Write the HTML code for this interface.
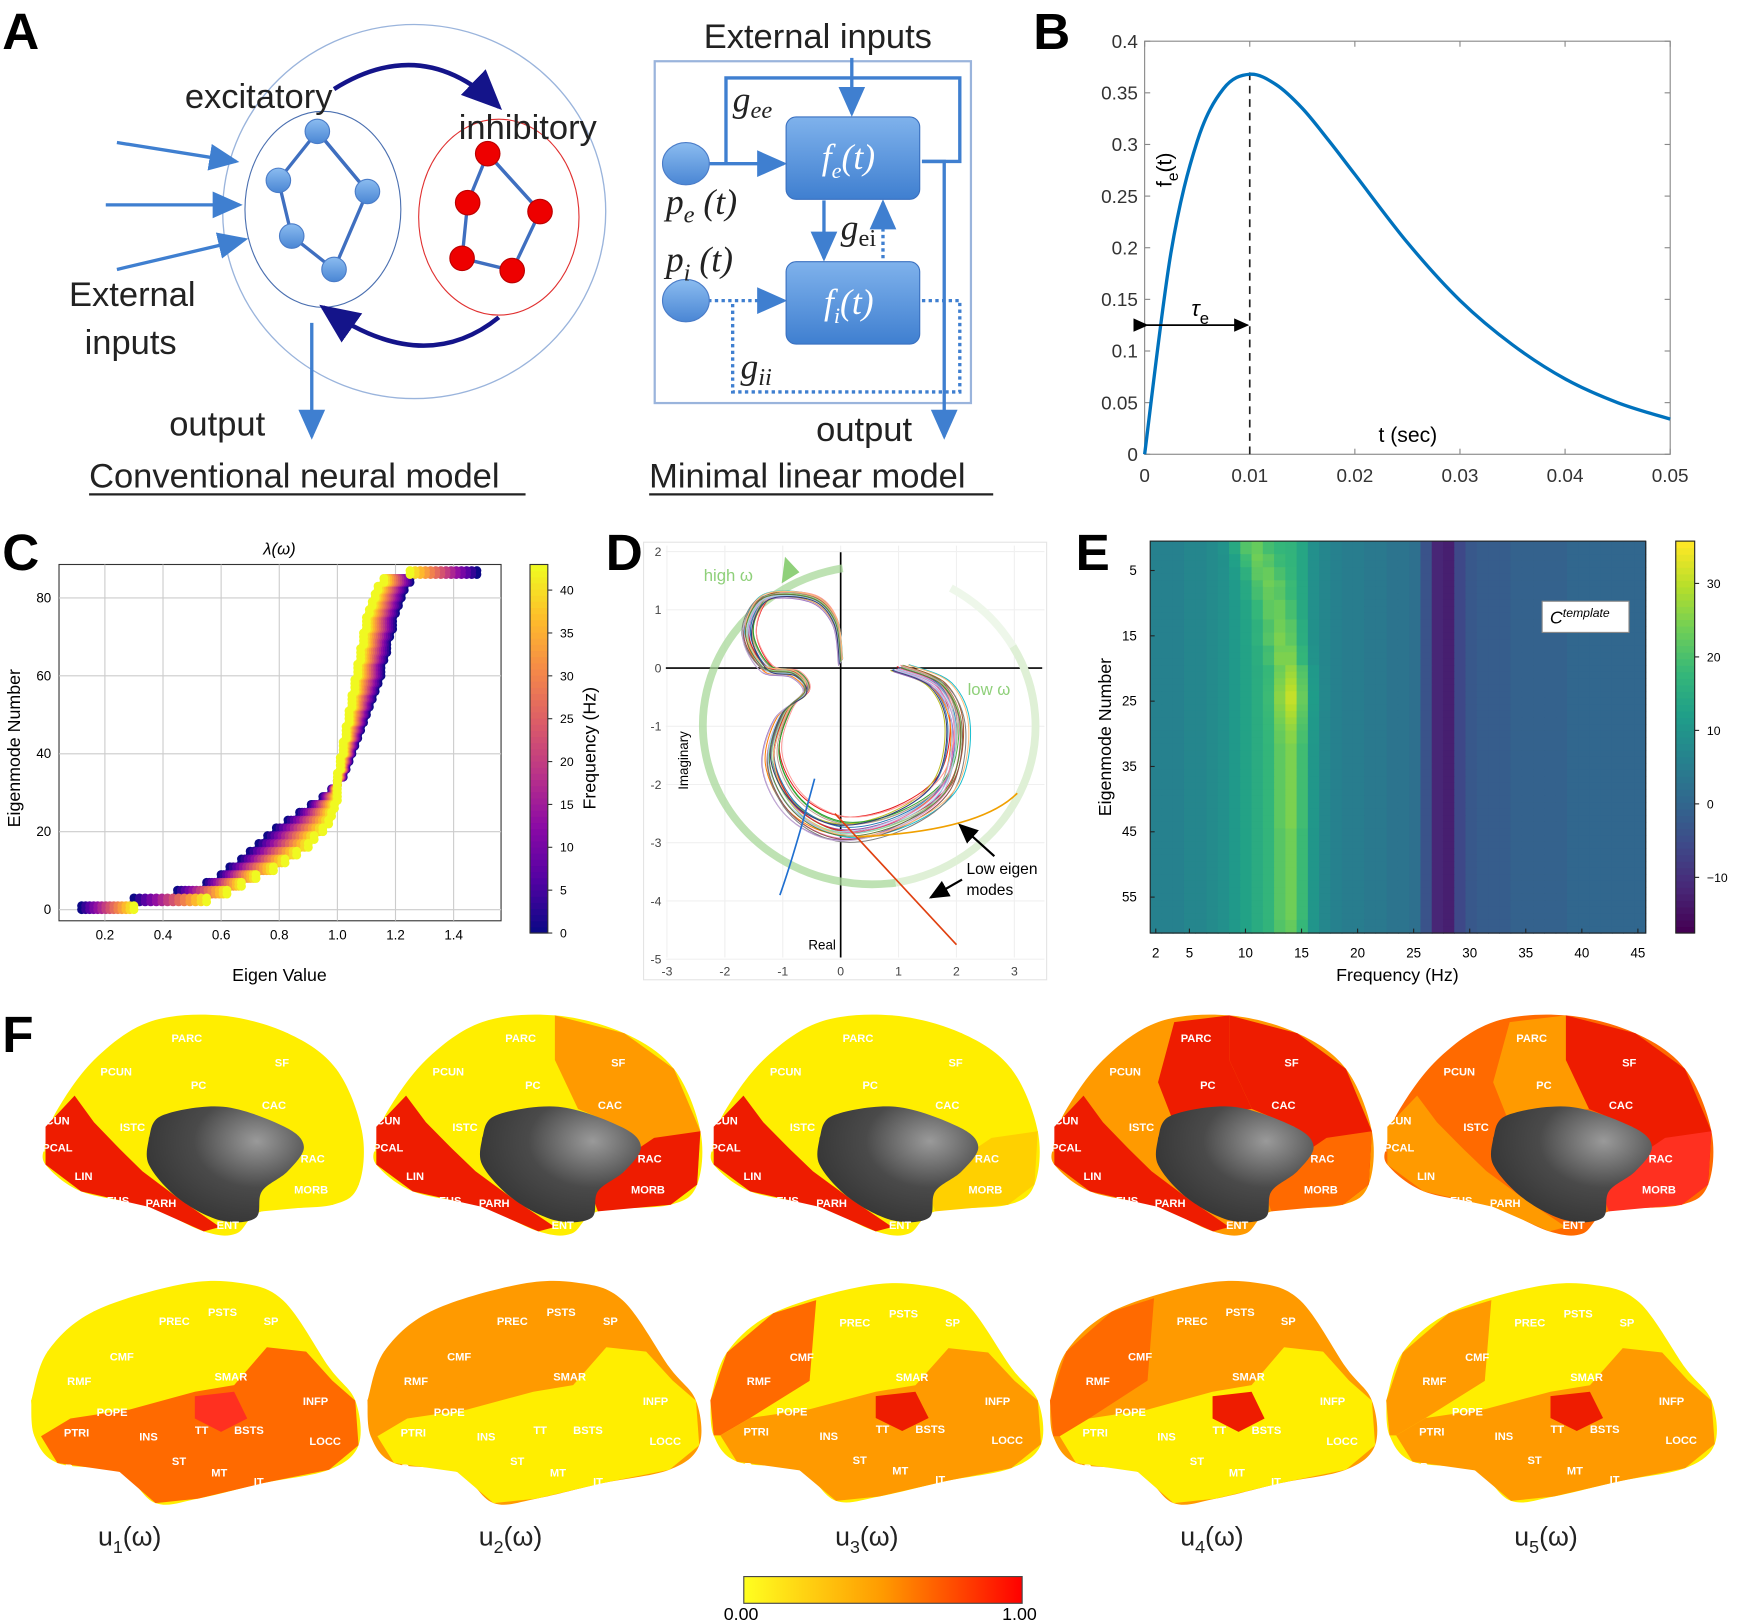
<!DOCTYPE html>
<html><head><meta charset="utf-8">
<style>
html,body{margin:0;padding:0;background:#fff;}
svg{display:block;font-family:"Liberation Sans",sans-serif;}
</style></head>
<body>
<svg id="fig" xmlns="http://www.w3.org/2000/svg" width="1737" height="1620" viewBox="0 0 1560 1455" preserveAspectRatio="none">
<defs>
<linearGradient id="boxg" x1="0" y1="0" x2="0" y2="1"><stop offset="0" stop-color="#7fb2ec"/><stop offset="1" stop-color="#3f7fd0"/></linearGradient>
<linearGradient id="nodeg" x1="0" y1="0" x2="0" y2="1"><stop offset="0" stop-color="#8bbcf0"/><stop offset="1" stop-color="#4a86d4"/></linearGradient>
<linearGradient id="ycb" x1="0" y1="0" x2="1" y2="0"><stop offset="0" stop-color="#ffff20"/><stop offset="0.5" stop-color="#ff9a00"/><stop offset="1" stop-color="#ff0000"/></linearGradient>
<radialGradient id="grayg" cx="0.7" cy="0.3" r="0.8"><stop offset="0" stop-color="#9a9a9a"/><stop offset="0.5" stop-color="#4a4a4a"/><stop offset="1" stop-color="#333"/></radialGradient>
<marker id="arr" markerWidth="10" markerHeight="10" refX="8" refY="5" orient="auto"><path d="M0,1 L9,5 L0,9 z" fill="#3f7fd0"/></marker>
<marker id="arrk" markerWidth="10" markerHeight="10" refX="8" refY="5" orient="auto"><path d="M0,1 L9,5 L0,9 z" fill="#000"/></marker>
<marker id="arrn" markerWidth="10" markerHeight="10" refX="8" refY="5" orient="auto"><path d="M0,1 L9,5 L0,9 z" fill="#14148a"/></marker>
</defs>

<!-- PANEL A -->
<g>
<text x="2" y="44" font-size="46" font-weight="bold">A</text>
<ellipse cx="372" cy="190" rx="172" ry="168" fill="none" stroke="#9ab4dc" stroke-width="1.2"/>
<ellipse cx="290" cy="188" rx="70" ry="88" fill="none" stroke="#4a6fb0" stroke-width="1"/>
<ellipse cx="448" cy="195" rx="72" ry="88" fill="none" stroke="#e03030" stroke-width="1"/>
<g stroke="#3f6fc0" stroke-width="3" fill="none">
<path d="M285,118 L250,162 L262,212 L300,242 L330,172 Z"/><path d="M285,118 L330,172"/>
</g>
<g stroke="#3f6fc0" stroke-width="3" fill="none">
<path d="M438,138 L420,182 L415,232 L460,243 L485,190 Z"/><path d="M438,138 L485,190"/>
</g>
<g fill="url(#nodeg)" stroke="#4a7cc8"><circle cx="285" cy="118" r="11"/><circle cx="250" cy="162" r="11"/><circle cx="330" cy="172" r="11"/><circle cx="262" cy="212" r="11"/><circle cx="300" cy="242" r="11"/></g>
<g fill="#ee0000" stroke="#b00"><circle cx="438" cy="138" r="11"/><circle cx="420" cy="182" r="11"/><circle cx="485" cy="190" r="11"/><circle cx="415" cy="232" r="11"/><circle cx="460" cy="243" r="11"/></g>
<path d="M300,80 Q380,30 448,96" fill="none" stroke="#14148a" stroke-width="4" marker-end="url(#arrn)"/>
<path d="M448,285 Q380,340 290,276" fill="none" stroke="#14148a" stroke-width="4" marker-end="url(#arrn)"/>
<g stroke="#3f7fd0" stroke-width="3" fill="none">
<path d="M105,128 L212,145" marker-end="url(#arr)"/><path d="M95,184 L215,184" marker-end="url(#arr)"/><path d="M105,242 L220,215" marker-end="url(#arr)"/>
<path d="M280,290 L280,392" marker-end="url(#arr)"/>
</g>
<g font-size="31" fill="#222">
<text x="166" y="97">excitatory</text><text x="412" y="125">inhibitory</text>
<text x="62" y="275">External</text><text x="76" y="318">inputs</text>
<text x="152" y="391">output</text>
<text x="80" y="438">Conventional neural model</text>
<text x="632" y="43">External inputs</text>
<text x="733" y="396">output</text>
<text x="583" y="438">Minimal linear model</text>
</g>
<line x1="80" y1="444" x2="472" y2="444" stroke="#222" stroke-width="2"/>
<line x1="583" y1="444" x2="892" y2="444" stroke="#222" stroke-width="2"/>
<rect x="588" y="55" width="284" height="307" fill="none" stroke="#9ab4dc" stroke-width="2"/>
<g stroke="#3f7fd0" stroke-width="3" fill="none">
<path d="M765,52 L765,102" marker-end="url(#arr)"/>
<path d="M636,147 L704,147" marker-end="url(#arr)"/>
<path d="M652,147 L652,70 L862,70 L862,145 L828,145"/>
<path d="M828,145 L848,145 L848,392" marker-end="url(#arr)"/>
<path d="M740,180 L740,232" marker-end="url(#arr)"/>
<path d="M793,232 L793,182" stroke-dasharray="3,3" marker-end="url(#arr)"/>
<path d="M636,270 L704,270" stroke-dasharray="3,3" marker-end="url(#arr)"/>
<path d="M828,270 L862,270 L862,352 L658,352 L658,272" stroke-dasharray="3,3"/>
</g>
<rect x="706" y="105" width="120" height="74" rx="9" fill="url(#boxg)" stroke="#3a70c0"/>
<rect x="706" y="235" width="120" height="74" rx="9" fill="url(#boxg)" stroke="#3a70c0"/>
<ellipse cx="616" cy="147" rx="21" ry="19" fill="url(#nodeg)" stroke="#4a7cc8"/>
<ellipse cx="616" cy="270" rx="21" ry="19" fill="url(#nodeg)" stroke="#4a7cc8"/>
<g font-family="Liberation Serif,serif" font-style="italic" font-size="32" fill="#222">
<text x="738" y="152" fill="#fff">f<tspan font-size="20" dy="8">e</tspan><tspan dy="-8">(t)</tspan></text>
<text x="740" y="282" fill="#fff">f<tspan font-size="20" dy="8">i</tspan><tspan dy="-8">(t)</tspan></text>
<text x="658" y="100">g<tspan font-size="22" dy="6">ee</tspan></text>
<text x="598" y="192">p<tspan font-size="22" dy="8">e</tspan><tspan dy="-8"> (t)</tspan></text>
<text x="598" y="244">p<tspan font-size="22" dy="8">i</tspan><tspan dy="-8"> (t)</tspan></text>
<text x="755" y="215">g<tspan font-size="22" dy="6" font-style="normal">ei</tspan></text>
<text x="665" y="340">g<tspan font-size="22" dy="6">ii</tspan></text>
</g>
</g>

<g id="panelB"></g>
<g id="panelC"></g>
<g id="panelD"></g>
<g id="panelE"></g>
<g id="panelF"></g>
</svg>

<script>
// ---------- DATA ----------
// Panel B
const bTime = [0,0.0025,0.005,0.0075,0.01,0.0125,0.015,0.0175,0.02,0.025,0.03,0.035,0.04,0.045,0.05];
const bValue = [0,0.195,0.303,0.354,0.368,0.358,0.335,0.304,0.271,0.205,0.149,0.106,0.073,0.050,0.034];
const bXTicks = [0,0.01,0.02,0.03,0.04,0.05];
const bYTicks = [0,0.05,0.1,0.15,0.2,0.25,0.3,0.35,0.4];
// Panel C
const cModes = [0,2,4,6,8,10,12,14,16,18,20,22,24,26,28,30,32,34,36,38,40,42,44,46,48,50,52,54,56,58,60,62,64,66,68,70,72,74,76,78,80,82,84,86];
const cEigLowFreq = [0.12,0.3,0.45,0.55,0.6,0.63,0.67,0.7,0.73,0.76,0.79,0.83,0.87,0.91,0.95,0.98,1.0,1.02,1.03,1.04,1.05,1.06,1.07,1.08,1.09,1.1,1.11,1.12,1.13,1.14,1.15,1.15,1.16,1.17,1.17,1.18,1.19,1.19,1.2,1.21,1.22,1.23,1.25,1.48];
const cEigHighFreq = [0.3,0.55,0.62,0.67,0.72,0.78,0.82,0.86,0.9,0.92,0.95,0.97,0.98,0.99,1.0,1.0,1.0,1.0,1.01,1.01,1.02,1.02,1.03,1.03,1.04,1.04,1.05,1.05,1.06,1.06,1.07,1.07,1.08,1.08,1.09,1.09,1.1,1.1,1.11,1.12,1.13,1.14,1.16,1.25];
const cXTicks = [0.2,0.4,0.6,0.8,1.0,1.2,1.4];
const cYTicks = [0,20,40,60,80];
const cCbTicks = [0,5,10,15,20,25,30,35,40];
// Panel D
const dBaseRe = [1.0,1.7,2.0,1.8,1.0,0.0,-0.8,-1.2,-1.0,-0.6,-0.8,-1.3,-1.6,-1.3,-0.5,-0.1,0.0];
const dBaseIm = [0.0,-0.3,-1.0,-2.0,-2.6,-2.8,-2.4,-1.6,-0.8,-0.4,-0.1,0.0,0.6,1.2,1.2,0.8,0.1];
const dCurveScale = [0.92,0.95,0.97,0.99,1.0,1.02,1.04,1.06,0.94,0.98,1.01,1.03,1.05,0.96,1.0,1.07,0.93,0.99,1.02,1.04,0.97,1.01,1.05,0.95,1.03];
const dCurveShift = [0.05,-0.05,0.1,0.0,-0.1,0.08,-0.02,0.12,-0.08,0.03,0.06,-0.12,0.0,0.09,-0.04,0.02,0.1,-0.06,0.04,-0.1,0.07,-0.03,0.11,-0.07,0.01];
const dXTicks = [-3,-2,-1,0,1,2,3];
const dYTicks = [-5,-4,-3,-2,-1,0,1,2];
// Panel E
const eFreqs = [1,2,3,4,5,6,7,8,9,10,11,12,13,14,15,16,17,18,19,20,21,22,23,24,25,26,27,28,29,30,31,32,33,34,35,36,37,38,39,40,41,42,43,44];
const eColBase = [6,6,6,7,7,8,9,11,13,15,16,17,17,14,9,7,6,5,5,4,4,3,3,2,-4,-12,-13,-6,-3,-2,-2,-2,-1,-1,-1,-1,-1,0,0,0,0,0,0,0];
const eRowPeak = [9.5,9.5,10,10,10.5,10.5,11,11,11,11.5,11.5,11.5,12,12,12,12,12.5,12.5,12.5,13,13,13,13,13,13,13,13,13,13,13,13,13,13,13,13,13,13,13,13,13,13,13,13,13,13,13,13,13,13,13,13,13,13,13,13,13,13,13,13,13];
const eRowBoost = [9,9,9,8,8,8,8,7,7,7,7,7,7,7,8,8,8,9,9,10,11,12,13,14,14,13,12,11,10,9,9,8,8,8,8,8,8,8,8,8,8,8,8,8,7,7,7,7,7,7,7,7,7,7,7,7,7,7,6,6];
const eXTicks = [2,5,10,15,20,25,30,35,40,45];
const eYTicks = [5,15,25,35,45,55];
const eCbTicks = [-10,0,10,20,30];

const NS="http://www.w3.org/2000/svg";
function mk(parent,tag,attrs,text){const e=document.createElementNS(NS,tag);for(const k in attrs)e.setAttribute(k,attrs[k]);if(text!==undefined)e.textContent=text;parent.appendChild(e);return e;}
function lerpColor(stops,t){t=Math.max(0,Math.min(1,t));const n=stops.length-1;const i=Math.min(n-1,Math.floor(t*n));const f=t*n-i;const a=stops[i],b=stops[i+1];return `rgb(${Math.round(a[0]+(b[0]-a[0])*f)},${Math.round(a[1]+(b[1]-a[1])*f)},${Math.round(a[2]+(b[2]-a[2])*f)})`;}
const viridis=[[68,1,84],[72,40,120],[62,74,137],[49,104,142],[38,130,142],[31,158,137],[53,183,121],[110,206,88],[181,222,43],[253,231,37]];
const plasma=[[13,8,135],[84,2,163],[139,10,165],[185,50,137],[219,92,104],[244,136,73],[254,188,43],[240,249,33]];
function smoothPath(pts){let d=`M${pts[0][0]},${pts[0][1]}`;for(let i=0;i<pts.length-1;i++){const p0=pts[Math.max(0,i-1)],p1=pts[i],p2=pts[i+1],p3=pts[Math.min(pts.length-1,i+2)];d+=` C${p1[0]+(p2[0]-p0[0])/6},${p1[1]+(p2[1]-p0[1])/6} ${p2[0]-(p3[0]-p1[0])/6},${p2[1]-(p3[1]-p1[1])/6} ${p2[0]},${p2[1]}`;}return d;}

// ---------- PANEL B ----------
(function(){
const g=document.getElementById('panelB');
const X0=1028,X1=1500,Y0=408,Y1=37;
const sx=v=>X0+(v-0)/0.05*(X1-X0), sy=v=>Y0-(v/0.4)*(Y0-Y1);
mk(g,'text',{x:928,y:44,'font-size':46,'font-weight':'bold',},'B');
mk(g,'rect',{x:X0,y:Y1,width:X1-X0,height:Y0-Y1,fill:'none',stroke:'#888','stroke-width':1});
bXTicks.forEach(t=>{const x=sx(t);mk(g,'line',{x1:x,y1:Y0,x2:x,y2:Y0-5,stroke:'#888'});mk(g,'line',{x1:x,y1:Y1,x2:x,y2:Y1+5,stroke:'#888'});
 const l=mk(g,'text',{x:x,y:Y0+25,'font-size':17,'text-anchor':'middle',fill:'#333'},String(t));});
bYTicks.forEach(t=>{const y=sy(t);mk(g,'line',{x1:X0,y1:y,x2:X0+5,y2:y,stroke:'#888'});mk(g,'line',{x1:X1,y1:y,x2:X1-5,y2:y,stroke:'#888'});
 const l=mk(g,'text',{x:X0-6,y:y+6,'font-size':17,'text-anchor':'end',fill:'#333'},String(t));});
mk(g,'line',{x1:sx(0.01),y1:Y1+28,x2:sx(0.01),y2:Y0,stroke:'#222','stroke-width':1.5,'stroke-dasharray':'7,5'});
const pts=bTime.map((t,i)=>[sx(t),sy(bValue[i])]);
const c=mk(g,'path',{d:smoothPath(pts),fill:'none',stroke:'#0072bd','stroke-width':3});

mk(g,'line',{x1:X0+2,y1:292,x2:sx(0.01)-2,y2:292,stroke:'#000','stroke-width':1.5,'marker-end':'url(#arrk)','marker-start':'url(#arrk)'});
const tau=mk(g,'text',{x:1070,y:284,'font-size':20,'font-style':'italic'},'τ');mk(tau,'tspan',{'font-size':15,dy:7,'font-style':'normal'},'e');
const yl=mk(g,'text',{x:1052,y:168,'font-size':19,transform:'rotate(-90 1052 168)'},'f');mk(yl,'tspan',{'font-size':14,dy:6},'e');mk(yl,'tspan',{dy:-6},'(t)');

const xl=mk(g,'text',{x:1238,y:397,'font-size':19},'t (sec)');
})();

// ---------- PANEL C ----------
(function(){
const g=document.getElementById('panelC');
const X0=53,X1=450,Y0=827,Y1=507;
const sx=v=>42+(v)*261, sy=v=>Y0-10-v*3.5;
mk(g,'text',{x:2,y:512,'font-size':46,'font-weight':'bold',},'C');
mk(g,'rect',{x:X0,y:Y1,width:X1-X0,height:Y0-Y1,fill:'#fff',stroke:'#333'});
cXTicks.forEach(t=>{const x=sx(t);mk(g,'line',{x1:x,y1:Y1,x2:x,y2:Y0,stroke:'#ccc'});
 const l=mk(g,'text',{x:x,y:Y0+17,'font-size':12,'text-anchor':'middle'},t.toFixed(1));});
cYTicks.forEach(t=>{const y=sy(t);mk(g,'line',{x1:X0,y1:y,x2:X1,y2:y,stroke:'#ccc'});
 const l=mk(g,'text',{x:X0-7,y:y+4,'font-size':12,'text-anchor':'end'},String(t));});
const N=14;
for(let k=0;k<N;k++){
 const t=k/(N-1);
 cModes.forEach((m,i)=>{
  const ev=cEigLowFreq[i]+(cEigHighFreq[i]-cEigLowFreq[i])*t;
  const d=mk(g,'circle',{cx:sx(ev),cy:sy(m),r:4,fill:lerpColor(plasma,t)});
  
  const d2=mk(g,'circle',{cx:sx(ev),cy:sy(m+1),r:4,fill:lerpColor(plasma,t)});
  
 });
}
const tl=mk(g,'text',{x:251,y:498,'font-size':15,'text-anchor':'middle','font-style':'italic'},'λ(ω)');
const xt=mk(g,'text',{x:251,y:881,'font-size':16,'text-anchor':'middle'},'Eigen Value');
const yt=mk(g,'text',{x:18,y:672,'font-size':16,'text-anchor':'middle',transform:'rotate(-90 18 672)'},'Eigenmode Number');
const CB0=838,CB1=507,cbs=v=>838-v*7.7;
for(let i=0;i<60;i++){const a=CB0-(CB0-CB1)*i/60;mk(g,'rect',{x:476,y:a-(CB0-CB1)/60-0.5,width:16,height:(CB0-CB1)/60+1,fill:lerpColor(plasma,i/59)});}
mk(g,'rect',{x:476,y:CB1,width:16,height:CB0-CB1,fill:'none',stroke:'#333',});
cCbTicks.forEach(t=>{const y=cbs(t);mk(g,'line',{x1:492,y1:y,x2:496,y2:y,stroke:'#333'});mk(g,'text',{x:503,y:y+4,'font-size':11},String(t));});
const ct=mk(g,'text',{x:535,y:672,'font-size':16,'text-anchor':'middle',transform:'rotate(-90 535 672)'},'Frequency (Hz)');
})();

// ---------- PANEL D ----------
(function(){
const g=document.getElementById('panelD');
const sx=v=>755+v*52, sy=v=>600-v*52.3;
mk(g,'text',{x:544,y:512,'font-size':46,'font-weight':'bold',},'D');
mk(g,'rect',{x:578,y:487,width:362,height:393,fill:'#fff',stroke:'#e4e4e4'});
dXTicks.forEach(t=>{const x=sx(t);mk(g,'line',{x1:x,y1:490,x2:x,y2:860,stroke:'#f0f0f0'});
 const l=mk(g,'text',{x:x,y:876,'font-size':11,'text-anchor':'middle',fill:'#444'},String(t));});
dYTicks.forEach(t=>{const y=sy(t);mk(g,'line',{x1:598,y1:y,x2:938,y2:y,stroke:'#f0f0f0'});
 const l=mk(g,'text',{x:594,y:y+4,'font-size':11,'text-anchor':'end',fill:'#444'},String(t));});
mk(g,'line',{x1:598,y1:sy(0),x2:936,y2:sy(0),stroke:'#000','stroke-width':1.5});
mk(g,'line',{x1:sx(0),y1:496,x2:sx(0),y2:860,stroke:'#000','stroke-width':1.5});
// green arc (pixel geometry, decorative)
const cx=778,cy=652,rx=152,ry=143;
const pt=a=>[cx+rx*Math.cos(a*Math.PI/180),cy-ry*Math.sin(a*Math.PI/180)];
const a1=pt(98),a2=pt(280),a3=pt(30);
mk(g,'path',{d:`M${a1[0]},${a1[1]} A${rx},${ry} 0 0 0 ${a2[0]},${a2[1]}`,fill:'none',stroke:'#a8d89a','stroke-width':7,opacity:0.75,});
mk(g,'path',{d:`M${a2[0]},${a2[1]} A${rx},${ry} 0 0 0 ${a3[0]},${a3[1]}`,fill:'none',stroke:'#dff0d6','stroke-width':7});
mk(g,'path',{d:`M${a3[0]},${a3[1]} A${rx},${ry} 0 0 0 ${pt(60)[0]},${pt(60)[1]}`,fill:'none',stroke:'#eef7ea','stroke-width':7});
mk(g,'path',{d:`M705,500 L718,514 L702,524 Z`,fill:'#8fd07a'});
const cols=['#e41a1c','#377eb8','#4daf4a','#984ea3','#ff7f00','#a65628','#f781bf','#17becf','#bcbd22','#1f77b4','#d62728','#9467bd','#8c564b','#2ca02c','#e377c2','#7f7f7f','#ff9896','#aec7e8','#98df8a','#c5b0d5','#c49c94','#9edae5','#ffbb78','#393b79','#637939'];
dCurveScale.forEach((s,i)=>{
 const pts=dBaseRe.map((r,j)=>[sx(r*s+dCurveShift[i]*(j<9?1:0.3)),sy(dBaseIm[j]*(j<9?s:1)+dCurveShift[i]*0.5)]);
 const p=mk(g,'path',{d:smoothPath(pts),fill:'none',stroke:cols[i%cols.length],'stroke-width':0.9});
 
});
mk(g,'path',{d:`M${sx(-0.45)},${sy(-1.9)} Q${sx(-0.8)},${sy(-3.2)} ${sx(-1.05)},${sy(-3.9)}`,fill:'none',stroke:'#1f6fd0','stroke-width':1.5});
mk(g,'path',{d:`M${sx(-0.1)},${sy(-2.5)} L${sx(2.0)},${sy(-4.75)}`,fill:'none',stroke:'#e04010','stroke-width':1.5});
mk(g,'path',{d:`M${sx(0.3)},${sy(-2.9)} Q${sx(2.4)},${sy(-2.8)} ${sx(3.05)},${sy(-2.15)}`,fill:'none',stroke:'#f0a000','stroke-width':1.5});
mk(g,'text',{x:632,y:522,'font-size':15,fill:'#8fd07a'},'high ω');
mk(g,'text',{x:869,y:624,'font-size':15,fill:'#8fd07a'},'low ω');
mk(g,'text',{x:868,y:785,'font-size':14},'Low eigen');mk(g,'text',{x:868,y:804,'font-size':14},'modes');
mk(g,'line',{x1:893,y1:769,x2:862,y2:741,stroke:'#000','stroke-width':2,'marker-end':'url(#arrk)'});
mk(g,'line',{x1:864,y1:790,x2:836,y2:806,stroke:'#000','stroke-width':2,'marker-end':'url(#arrk)'});
const xt=mk(g,'text',{x:726,y:853,'font-size':12},'Real');
const yt=mk(g,'text',{x:618,y:683,'font-size':12,'text-anchor':'middle',transform:'rotate(-90 618 683)'},'Imaginary');
})();

// ---------- PANEL E ----------
(function(){
const g=document.getElementById('panelE');
const X0=1033,X1=1478,Y0=486,Y1=838;
const nR=eRowPeak.length, rowH=(Y1-Y0)/nR;
const sx=f=>1038+(f-2)*(1471-1038)/43;
const cw=(X1-X0)/eFreqs.length;
const vmin=-17.6,vmax=35.8;
mk(g,'text',{x:966,y:512,'font-size':46,'font-weight':'bold',},'E');
eRowPeak.forEach((pk,r)=>{
 eFreqs.forEach((f,c)=>{
  const d=f-pk; const v=eColBase[c]+eRowBoost[r]*Math.exp(-d*d/(2*1.1*1.1));
  const cell=mk(g,'rect',{x:X0+c*cw,y:Y0+r*rowH,width:cw+0.6,height:rowH+0.6,fill:lerpColor(viridis,(v-vmin)/(vmax-vmin))});
  
 });
});
mk(g,'rect',{x:X0,y:Y0,width:X1-X0,height:Y1-Y0,fill:'none',stroke:'#222'});
eXTicks.forEach(t=>{const x=sx(t);mk(g,'line',{x1:x,y1:Y1,x2:x,y2:Y1-4,stroke:'#222'});
 const l=mk(g,'text',{x:x,y:Y1+22,'font-size':12,'text-anchor':'middle'},String(t));});
eYTicks.forEach(t=>{const y=Y0+(t-0.5)*rowH;mk(g,'line',{x1:X0,y1:y,x2:X0+4,y2:y,stroke:'#222'});
 const l=mk(g,'text',{x:X0-12,y:y+4,'font-size':12,'text-anchor':'end'},String(t));});
mk(g,'rect',{x:1385,y:540,width:78,height:28,fill:'#fff',stroke:'#888'});
const ct=mk(g,'text',{x:1392,y:560,'font-size':16,'font-style':'italic'},'C');mk(ct,'tspan',{'font-size':11,dy:-6},'template');
const xt=mk(g,'text',{x:1255,y:881,'font-size':16,'text-anchor':'middle'},'Frequency (Hz)');
const yt=mk(g,'text',{x:998,y:662,'font-size':16,'text-anchor':'middle',transform:'rotate(-90 998 662)'},'Eigenmode Number');
const cbs=v=>722-v*6.6;
for(let i=0;i<60;i++){const a=Y1-(Y1-Y0)*i/60;mk(g,'rect',{x:1505,y:a-(Y1-Y0)/60-0.5,width:17,height:(Y1-Y0)/60+1,fill:lerpColor(viridis,i/59)});}
mk(g,'rect',{x:1505,y:Y0,width:17,height:Y1-Y0,fill:'none',stroke:'#222',});
eCbTicks.forEach(t=>{const y=cbs(t);mk(g,'line',{x1:1522,y1:y,x2:1526,y2:y,stroke:'#222'});mk(g,'text',{x:1533,y:y+4,'font-size':11},(t<0?'−':'')+Math.abs(t));});
})();

// ---------- PANEL F ----------
(function(){
const g=document.getElementById('panelF');
mk(g,'text',{x:2,y:945,'font-size':46,'font-weight':'bold',},'F');
const Y='#ffee00',Y2='#ffd000',O='#ff9a00',O2='#ff6a00',R='#ee1c00',R2='#ff3020';
const med=[[.007,.59],[.04,.44],[.16,.2],[.33,.03],[.55,0],[.76,.08],[.91,.24],[.99,.52],[.98,.76],[.9,.85],[.68,.88],[.6,.98],[.5,.97],[.33,.86],[.12,.79],[.01,.67]];
const grey=[[.33,.55],[.37,.45],[.56,.41],[.75,.5],[.81,.59],[.76,.7],[.68,.79],[.66,.91],[.55,.92],[.42,.82],[.33,.67]];
const occ=[[.01,.5],[.1,.36],[.16,.48],[.24,.6],[.31,.7],[.42,.82],[.55,.95],[.5,.97],[.33,.86],[.12,.79],[.01,.67]];
const front=[[.55,0],[.76,.08],[.91,.24],[.99,.52],[.98,.76],[.9,.85],[.75,.7],[.81,.59],[.75,.5],[.62,.42],[.55,.2]];
const orb=[[.99,.52],[.98,.76],[.9,.85],[.68,.88],[.66,.8],[.76,.7],[.81,.59],[.85,.55]];
const mid=[[.38,.03],[.55,0],[.55,.2],[.62,.42],[.37,.45],[.33,.3]];
const lat=[[0,.54],[.05,.32],[.19,.14],[.45,.02],[.63,.01],[.77,.09],[.91,.39],[.99,.54],[1,.74],[.91,.85],[.71,.91],[.51,.98],[.38,1],[.27,.86],[.08,.82],[.01,.7]];
const temp=[[.12,.62],[.3,.58],[.5,.5],[.62,.47],[.72,.3],[.84,.32],[.92,.45],[.99,.54],[1,.74],[.91,.85],[.71,.91],[.51,.98],[.38,1],[.27,.86],[.08,.82],[.03,.7]];
const ant=[[0,.54],[.05,.32],[.19,.14],[.32,.08],[.3,.45],[.12,.62],[.03,.7],[.01,.7]];
const spot=[[.5,.52],[.62,.5],[.66,.62],[.58,.68],[.5,.62]];
function poly(box,pts,fill,name){const [x,y,w,h]=box;const p=mk(g,'polygon',{points:pts.map(q=>`${x+q[0]*w},${y+q[1]*h}`).join(' '),fill:fill});return p;}
function smooth(box,pts,fill,name){const [x,y,w,h]=box;const P=pts.map(q=>[x+q[0]*w,y+q[1]*h]);P.push(P[0]);const p=mk(g,'path',{d:smoothPath(P)+'Z',fill:fill});return p;}
const medBoxes=[[38,912,290,200],[335,912,297,200],[638,912,297,200],[944,912,291,200],[1243,912,297,200]];
const medCols=[[Y,Y,R,Y],[Y,O,R,R],[Y,Y,R,Y2],[O,R,R,O2],[O2,R,O,R2]];
const medMid=[Y,Y,Y,R,O];
const latBoxes=[[28,1150,294,200],[330,1150,298,200],[638,1152,297,196],[943,1150,292,200],[1245,1152,295,196]];
const latCols=[[Y,O2,Y],[O,Y,O],[Y,O,O2],[O,Y,O2],[Y,O,O]];
const latSpot=[R2,Y,R,R,R];
const medLbl=[['PARC',.4,.12],['PCUN',.18,.27],['PC',.46,.33],['SF',.72,.23],['CAC',.68,.42],['CUN',.01,.49],['ISTC',.24,.52],['PCAL',0,.61],['RAC',.8,.66],['LIN',.1,.74],['MORB',.78,.8],['FUS',.2,.85],['PARH',.32,.86],['ENT',.54,.96]];
const latLbl=[['PSTS',.54,.16],['PREC',.39,.2],['SP',.71,.2],['CMF',.24,.36],['RMF',.11,.47],['SMAR',.56,.45],['INFP',.83,.56],['POPE',.2,.61],['TT',.5,.69],['PTRI',.1,.7],['INS',.33,.72],['BSTS',.62,.69],['LOCC',.85,.74],['ST',.43,.83],['PORB',.03,.86],['MT',.55,.88],['LORB',.13,.93],['IT',.68,.92]];
medBoxes.forEach((b,i)=>{
 const c=medCols[i];
 smooth(b,med,c[0],'medial-brain-surface');
 poly(b,mid,medMid[i],'medial-region');
 poly(b,front,c[1],'frontal-region');
 poly(b,occ,c[2],'occipital-region');
 poly(b,orb,c[3],'orbital-region');
 smooth(b,grey,'url(#grayg)','medial-wall');
 medLbl.forEach(l=>{mk(g,'text',{x:b[0]+l[1]*b[2],y:b[1]+l[2]*b[3],'font-size':10,'font-weight':'bold',fill:'#fff'},l[0]);});
});
latBoxes.forEach((b,i)=>{
 const c=latCols[i];
 smooth(b,lat,c[0],'lateral-brain-surface');
 poly(b,ant,c[2],'frontal-region');
 poly(b,temp,c[1],'temporal-region');
 poly(b,spot,latSpot[i],'bsts-region');
 latLbl.forEach(l=>{mk(g,'text',{x:b[0]+l[1]*b[2],y:b[1]+l[2]*b[3],'font-size':10,'font-weight':'bold',fill:'#fff'},l[0]);});
});
const ux=[88,430,750,1060,1360];
ux.forEach((x,i)=>{const t=mk(g,'text',{x:x,y:1388,'font-size':24,fill:'#222'},'u');mk(t,'tspan',{'font-size':16,dy:7},String(i+1));mk(t,'tspan',{dy:-7},'(ω)');
 });
mk(g,'rect',{x:668,y:1416,width:250,height:24,fill:'url(#ycb)',stroke:'#444',});
mk(g,'text',{x:650,y:1455,'font-size':16},'0.00');mk(g,'text',{x:900,y:1455,'font-size':16},'1.00');
})();
</script>
</body></html>
